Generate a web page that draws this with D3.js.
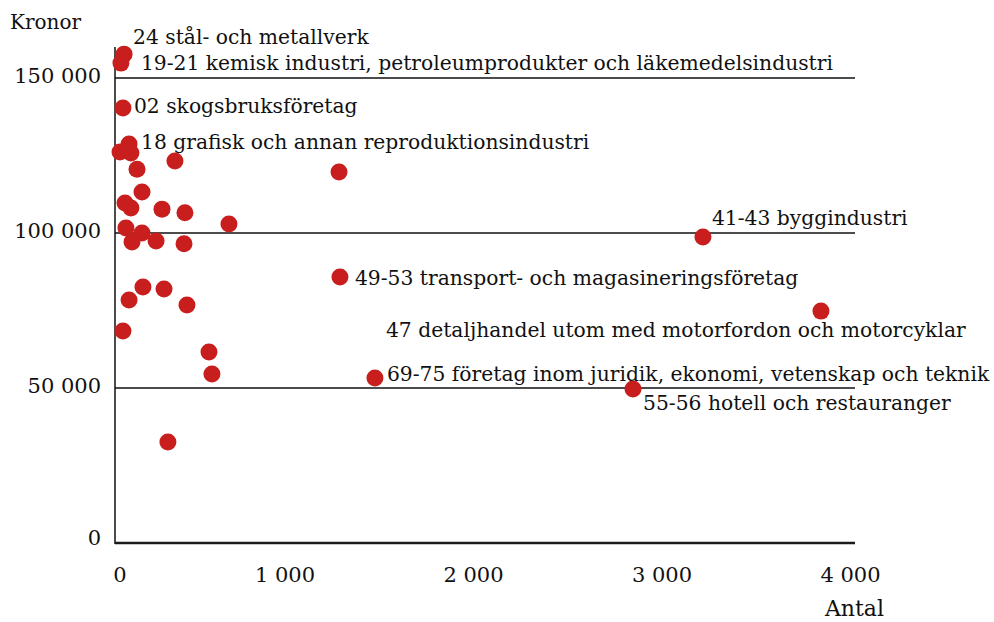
<!DOCTYPE html>
<html>
<head>
<meta charset="utf-8">
<script src="https://cdn.jsdelivr.net/npm/d3@7"></script>
<style>
  body { margin: 0; background: #fff; }
  svg text { font-family: "DejaVu Serif", "Liberation Serif", serif !important; fill: #111; }
</style>
</head>
<body>
<div id="chart"></div>
<script>
// antal (x) and kronor (y) for each branch
const antal = [49, 32, 43, 76, 27, 86, 324, 119, 146, 54, 86, 254, 378, 616, 59, 146, 92, 222, 373,
  1211, 1216, 151, 265, 76, 389, 43, 508, 524, 286, 1405, 2800, 3178, 3816];
const kronor = [157700, 154800, 140300, 128700, 126100, 125800, 123200, 120600, 113200, 109700, 108100,
  107700, 106500, 102900, 101600, 100000, 97100, 97400, 96500, 119700, 85800, 82600, 81900, 78400,
  76800, 68400, 61600, 54500, 32600, 53200, 49700, 98700, 74800];
const branschNamn = [
  "24 stål- och metallverk",
  "19-21 kemisk industri, petroleumprodukter och läkemedelsindustri",
  "02 skogsbruksföretag",
  "18 grafisk och annan reproduktionsindustri",
  "", "", "", "", "", "", "", "", "", "", "", "", "", "", "", "",
  "49-53 transport- och magasineringsföretag",
  "", "", "", "", "", "", "", "",
  "69-75 företag inom juridik, ekonomi, vetenskap och teknik",
  "55-56 hotell och restauranger",
  "41-43 byggindustri",
  "47 detaljhandel utom med motorfordon och motorcyklar"
];
const xTicks = [0, 1000, 2000, 3000, 4000];
const yTicks = [0, 50000, 100000, 150000];

// label placement relative to the dot (px)
const labelOffset = {
  0: [9, -17], 1: [20, 0], 2: [11, -2], 3: [12, -2], 20: [15, 1],
  29: [12, -4], 30: [10, 14], 31: [9, -19], 32: [-435, 19]
};

const width = 994, height = 622;
const svg = d3.select('#chart').append('svg')
  .attr('width', width)
  .attr('height', height);

const x = d3.scaleLinear().domain([0, 4000]).range([115, 855]);
const y = d3.scaleLinear().domain([0, 160000]).range([543, 47]);

const se = d3.formatLocale({ decimal: ',', thousands: '\u00a0', grouping: [3], currency: ['', ' kr'] });
const fmt = se.format(',d');

// gridlines at 50 000, 100 000, 150 000
svg.append('g')
  .selectAll('line')
  .data(yTicks.filter(d => d > 0))
  .enter()
  .append('line')
  .attr('x1', x(0))
  .attr('x2', x(4000))
  .attr('y1', d => y(d))
  .attr('y2', d => y(d))
  .attr('stroke', '#111')
  .attr('stroke-width', 1.4);

// y axis
const yAxis = svg.append('g')
  .attr('transform', `translate(${x(0)},0)`)
  .call(d3.axisLeft(y).tickValues(yTicks).tickFormat(fmt).tickSize(0).tickPadding(14));
yAxis.select('.domain').attr('stroke', '#111').attr('stroke-width', 1.5).attr('d', `M0,${y(160000)}V${y(0) + 1}`);
yAxis.selectAll('text')
  .attr('font-size', 21)
  .attr('dy', d => d === 0 ? '0.05em' : '0.2em');

// x axis
const xAxis = svg.append('g')
  .attr('transform', `translate(0,${y(0)})`)
  .call(d3.axisBottom(x).tickValues(xTicks).tickFormat(fmt).tickSize(0).tickPadding(24));
xAxis.select('.domain').attr('stroke', '#1a1a1a').attr('stroke-width', 2.4).attr('d', `M${x(0)},0H${x(4000)}`);
xAxis.selectAll('text')
  .attr('font-size', 21)
  .attr('text-anchor', 'end')
  .attr('dx', (d, i) => 11 + i * 3.5);

svg.append('text')
  .attr('x', 10)
  .attr('y', 29)
  .attr('font-size', 20)
  .text('Kronor');

svg.append('text')
  .attr('x', 884)
  .attr('y', 616)
  .attr('text-anchor', 'end')
  .attr('font-size', 22)
  .text('Antal');

// dots
const points = antal.map((a, i) => ({ a: a, k: kronor[i], name: branschNamn[i], i: i }));

svg.append('g')
  .selectAll('circle')
  .data(points)
  .enter()
  .append('circle')
  .attr('cx', d => x(d.a))
  .attr('cy', d => y(d.k))
  .attr('r', 8.5)
  .attr('fill', '#c81e1e');

svg.append('g')
  .selectAll('text')
  .data(points.filter(d => d.name))
  .enter()
  .append('text')
  .attr('x', d => x(d.a) + labelOffset[d.i][0])
  .attr('y', d => y(d.k) + labelOffset[d.i][1])
  .attr('dy', '0.35em')
  .attr('font-size', 20.3)
  .text(d => d.name);
</script>
</body>
</html>
